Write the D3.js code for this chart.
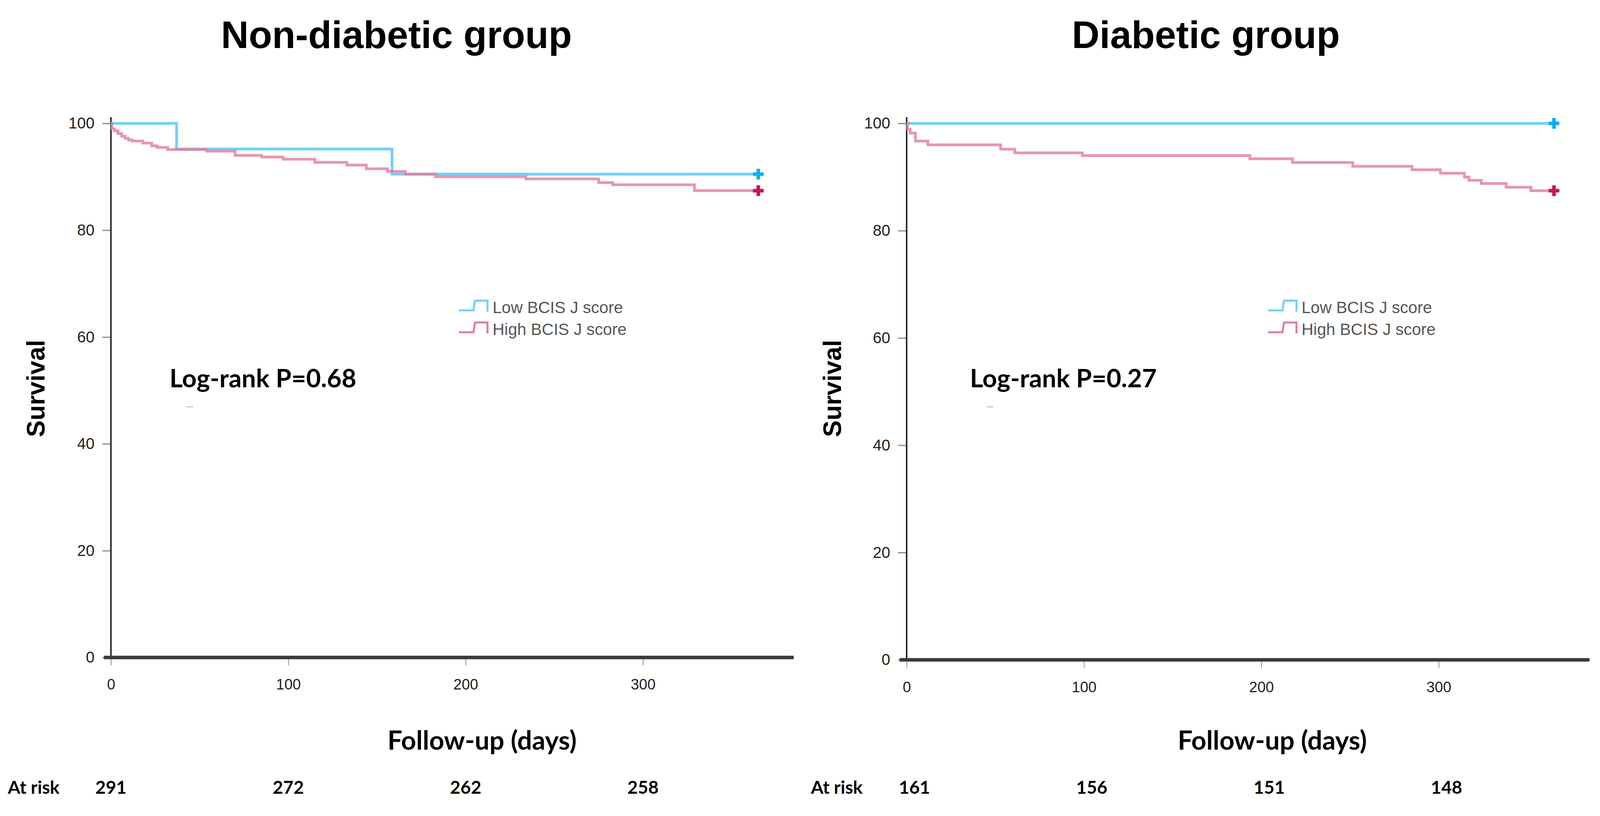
<!DOCTYPE html>
<html>
<head>
<meta charset="utf-8">
<script src="https://cdn.jsdelivr.net/npm/d3@7"></script>
<style>
  body { margin: 0; background: #fff; }
  svg { display: block; }
</style>
</head>
<body>
<svg id="chart" width="4116" height="2090"></svg>
<script>
// data
var panelTitles = ["Non-diabetic group", "Diabetic group"];
var seriesNames = ["Low BCIS J score", "High BCIS J score"];
var pValues = ["0.68", "0.27"];
var xTicks = [0, 100, 200, 300];
var yTicks = [0, 20, 40, 60, 80, 100];
var atRiskDays = [0, 100, 200, 300];
var atRiskNonDiab = [291, 272, 262, 258];
var atRiskDiab = [161, 156, 151, 148];

// [day, survival %] step points
var nonDiabLow = [[0, 100], [37, 95.2], [158.5, 90.5], [365, 90.5]];
var nonDiabHigh = [[0, 100], [0.5, 99.0], [2, 98.6], [4, 98.1], [6, 97.6], [8, 97.2], [10, 96.9],
  [12, 96.7], [18, 96.3], [23, 95.8], [26, 95.5], [32, 95.1], [54, 94.8], [70, 94.0], [85, 93.7],
  [97, 93.3], [115, 92.7], [133, 92.2], [144, 91.5], [156, 91.0], [166, 90.5], [183, 90.0],
  [234, 89.6], [275, 88.9], [283, 88.5], [329, 87.4], [365, 87.4]];
var diabLow = [[0, 100], [365, 100]];
var diabHigh = [[0, 100], [0.5, 98.9], [2, 98.2], [5, 96.7], [12, 96.0], [53, 95.2], [61, 94.5],
  [99, 94.0], [193.5, 93.4], [217.6, 92.7], [251.6, 92.0], [285, 91.35], [301, 90.7], [314.5, 90.0],
  [317, 89.4], [324, 88.8], [338, 88.1], [352, 87.45], [365, 87.45]];

var lowColor = "#6fd0f6", lowMark = "#0fadf0";
var highColor = "#e07c9c", highMark = "#c3175a";

var panels = [
  { title: panelTitles[0], titleX: 1015, x0: 284, y0: 1684, low: nonDiabLow, high: nonDiabHigh,
    p: pValues[0], atRisk: atRiskNonDiab, riskOff: 0, legendX: 1175, pX: 434, labelX: 92, tickY: 1753,
    followX: 1234, riskLabelX: 20 },
  { title: panelTitles[1], titleX: 3087, x0: 2321, y0: 1690, low: diabLow, high: diabHigh,
    p: pValues[1], atRisk: atRiskDiab, riskOff: 20, legendX: 3246, pX: 2483, labelX: 2131, tickY: 1760,
    followX: 3257, riskLabelX: 2076 }
];

var svg = d3.select("#chart");

panels.forEach(function (pn) {
  var x = d3.scaleLinear().domain([0, 385]).range([pn.x0, pn.x0 + 1748]);
  var y = d3.scaleLinear().domain([0, 100]).range([pn.y0, 316]);
  var g = svg.append("g");

  // title
  g.append("text")
    .attr("x", pn.titleX).attr("y", 123)
    .attr("text-anchor", "middle")
    .style("font-family", "Liberation Sans, Arial, sans-serif")
    .style("font-weight", "bold")
    .style("font-size", "98px")
    .text(pn.title);

  // y axis
  var yAxis = g.append("g")
    .attr("transform", "translate(" + pn.x0 + ",0)")
    .call(d3.axisLeft(y).tickValues(yTicks).tickSize(22).tickPadding(20));
  yAxis.select(".domain").remove();
  yAxis.selectAll(".tick line").attr("stroke", "#8a8a8a").attr("stroke-width", 3);
  yAxis.selectAll(".tick text")
    .attr("fill", "#1e1e1e")
    .style("font-family", "Liberation Sans, Arial, sans-serif")
    .style("font-size", "40px");
  g.append("line")
    .attr("x1", pn.x0).attr("x2", pn.x0)
    .attr("y1", 300).attr("y2", pn.y0)
    .attr("stroke", "#2b2b2b").attr("stroke-width", 4);

  // x axis
  var xAxis = g.append("g")
    .attr("transform", "translate(0," + pn.y0 + ")")
    .call(d3.axisBottom(x).tickValues(xTicks).tickSize(20));
  xAxis.select(".domain").remove();
  xAxis.selectAll(".tick line").attr("stroke", "#8a8a8a").attr("stroke-width", 2);
  xAxis.selectAll(".tick text")
    .attr("y", pn.tickY - pn.y0).attr("dy", "0.35em")
    .attr("fill", "#1e1e1e")
    .style("font-family", "Liberation Sans, Arial, sans-serif")
    .style("font-size", "38px");
  g.append("line")
    .attr("x1", pn.x0 - 18).attr("x2", x(385))
    .attr("y1", pn.y0).attr("y2", pn.y0)
    .attr("stroke", "#3a3a3a").attr("stroke-width", 9);

  // survival curves
  var line = d3.line()
    .x(function (d) { return x(d[0]); })
    .y(function (d) { return y(d[1]); })
    .curve(d3.curveStepAfter);

  g.append("path").datum(pn.low)
    .attr("d", line)
    .attr("fill", "none").attr("stroke", lowColor).attr("stroke-width", 7);
  g.append("path").datum(pn.high)
    .attr("d", line)
    .attr("fill", "none").attr("stroke", highColor).attr("stroke-width", 7)
    .attr("stroke-opacity", 0.8);

  // censor marks at the end
  [[pn.low, lowMark], [pn.high, highMark]].forEach(function (s) {
    var last = s[0][s[0].length - 1];
    g.append("path")
      .attr("d", d3.symbol().type(d3.symbolCross).size(420)())
      .attr("transform", "translate(" + x(last[0]) + "," + y(last[1]) + ")")
      .attr("fill", s[1]);
  });

  // legend
  var leg = g.append("g").attr("transform", "translate(" + pn.legendX + ",0)");
  [[lowColor, 795, seriesNames[0]], [highColor, 851, seriesNames[1]]].forEach(function (r) {
    var yy = r[1];
    leg.append("path")
      .attr("d", "M0," + yy + "H37L41," + (yy - 25) + "H73V" + (yy + 3))
      .attr("fill", "none").attr("stroke", r[0]).attr("stroke-width", 5);
    leg.append("text")
      .attr("x", 86).attr("y", yy - 8)
      .attr("dy", "0.35em")
      .attr("fill", "#555")
      .style("font-family", "Liberation Sans, Arial, sans-serif")
      .style("font-size", "42px")
      .text(r[2]);
  });

  // log-rank
  g.append("text")
    .attr("x", pn.pX).attr("y", 992)
    .style("font-family", "Lato, sans-serif")
    .style("font-weight", "bold")
    .style("font-size", "65px")
    .text("Log-rank P=" + pn.p);
  g.append("line")
    .attr("x1", pn.pX + 44).attr("x2", pn.pX + 60)
    .attr("y1", 1042).attr("y2", 1042)
    .attr("stroke", "#c4c4c4").attr("stroke-width", 3);

  // axis titles
  g.append("text")
    .attr("transform", "translate(" + pn.labelX + ",995) rotate(-90)")
    .attr("text-anchor", "middle").attr("dy", "0.35em")
    .style("font-family", "Liberation Sans, Arial, sans-serif")
    .style("font-weight", "bold")
    .style("font-size", "64px")
    .text("Survival");
  g.append("text")
    .attr("x", pn.followX).attr("y", 1897)
    .attr("text-anchor", "middle").attr("dy", "0.35em")
    .style("font-family", "Lato, sans-serif")
    .style("font-weight", "bold")
    .style("font-size", "67px")
    .text("Follow-up (days)");

  // numbers at risk
  g.append("text")
    .attr("x", pn.riskLabelX).attr("y", 2017)
    .attr("dy", "0.35em")
    .style("font-family", "Lato, sans-serif")
    .style("font-weight", "bold")
    .style("font-size", "46px")
    .text("At risk");
  g.selectAll(".risk").data(pn.atRisk).enter().append("text")
    .attr("x", function (d, i) { return x(atRiskDays[i]) + pn.riskOff; })
    .attr("y", 2017)
    .attr("text-anchor", "middle").attr("dy", "0.35em")
    .style("font-family", "Lato, sans-serif")
    .style("font-weight", "bold")
    .style("font-size", "46px")
    .text(function (d) { return d; });
});
</script>
</body>
</html>
